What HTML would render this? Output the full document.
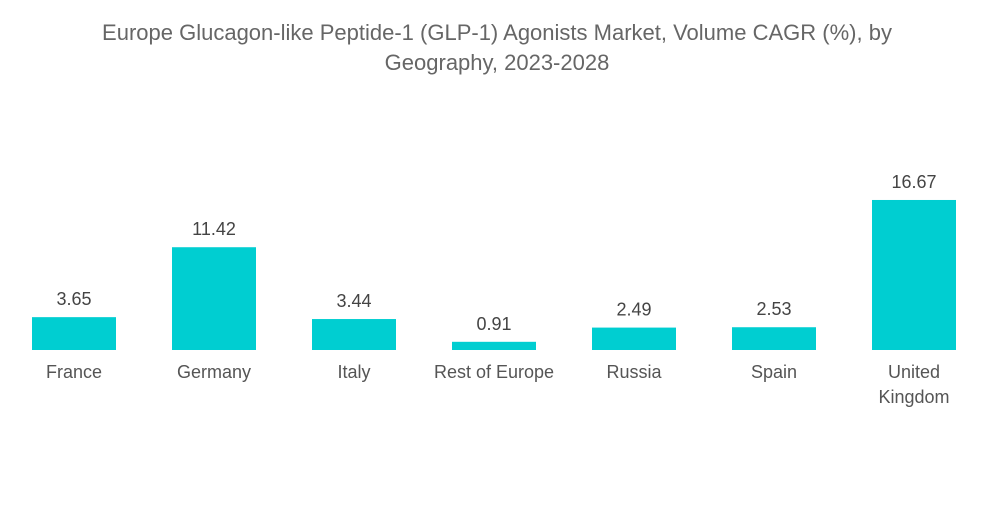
<!DOCTYPE html>
<html>
<head>
<meta charset="utf-8">
<style>
  html, body { margin: 0; padding: 0; background: #fff; }
  body { width: 1000px; height: 504px; overflow: hidden; font-family: "Liberation Sans", sans-serif; }
  svg text { font-family: "Liberation Sans", sans-serif; }
</style>
</head>
<body>
<svg id="chart" width="1000" height="504" viewBox="0 0 1000 504" xmlns="http://www.w3.org/2000/svg">
  <g>
    <text x="497" y="40" text-anchor="middle" font-size="22" fill="#666666">Europe Glucagon-like Peptide-1 (GLP-1) Agonists Market, Volume CAGR (%), by</text>
    <text x="497" y="70" text-anchor="middle" font-size="22" fill="#666666">Geography, 2023-2028</text>
  </g>
  <g id="bars"></g>
  <g id="values"></g>
  <g id="cats"></g>
</svg>
<script>
const categories = ["France", "Germany", "Italy", "Rest of Europe", "Russia", "Spain", "United Kingdom"];
const values = [3.65, 11.42, 3.44, 0.91, 2.49, 2.53, 16.67];
const valueLabels = ["3.65", "11.42", "3.44", "0.91", "2.49", "2.53", "16.67"];

const NS = "http://www.w3.org/2000/svg";
const baseline = 350, pxPerUnit = 9.0, startX = 32, step = 140, barW = 84;
const xScale = i => startX + i * step;
const yScale = v => baseline - v * pxPerUnit;
const barsG = document.getElementById('bars');
const valsG = document.getElementById('values');
const catsG = document.getElementById('cats');

categories.forEach((c, i) => {
  const x = xScale(i), y = yScale(values[i]);
  const r = document.createElementNS(NS, 'rect');
  r.setAttribute('x', x); r.setAttribute('y', y);
  r.setAttribute('width', barW); r.setAttribute('height', baseline - y);
  r.setAttribute('fill', '#00CED1');
  
  
  barsG.appendChild(r);

  const t = document.createElementNS(NS, 'text');
  t.setAttribute('x', x + barW / 2); t.setAttribute('y', y - 12);
  t.setAttribute('text-anchor', 'middle'); t.setAttribute('font-size', '18');
  t.setAttribute('fill', '#444444');
  t.textContent = valueLabels[i];
  
  
  valsG.appendChild(t);

  const lines = c === "United Kingdom" ? ["United", "Kingdom"] : [c];
  lines.forEach((ln, j) => {
    const ct = document.createElementNS(NS, 'text');
    ct.setAttribute('x', x + barW / 2); ct.setAttribute('y', 378 + j * 25);
    ct.setAttribute('text-anchor', 'middle'); ct.setAttribute('font-size', '18');
    ct.setAttribute('fill', '#555555');
    ct.textContent = ln;
    
    
    catsG.appendChild(ct);
  });
});
</script>
</body>
</html>
